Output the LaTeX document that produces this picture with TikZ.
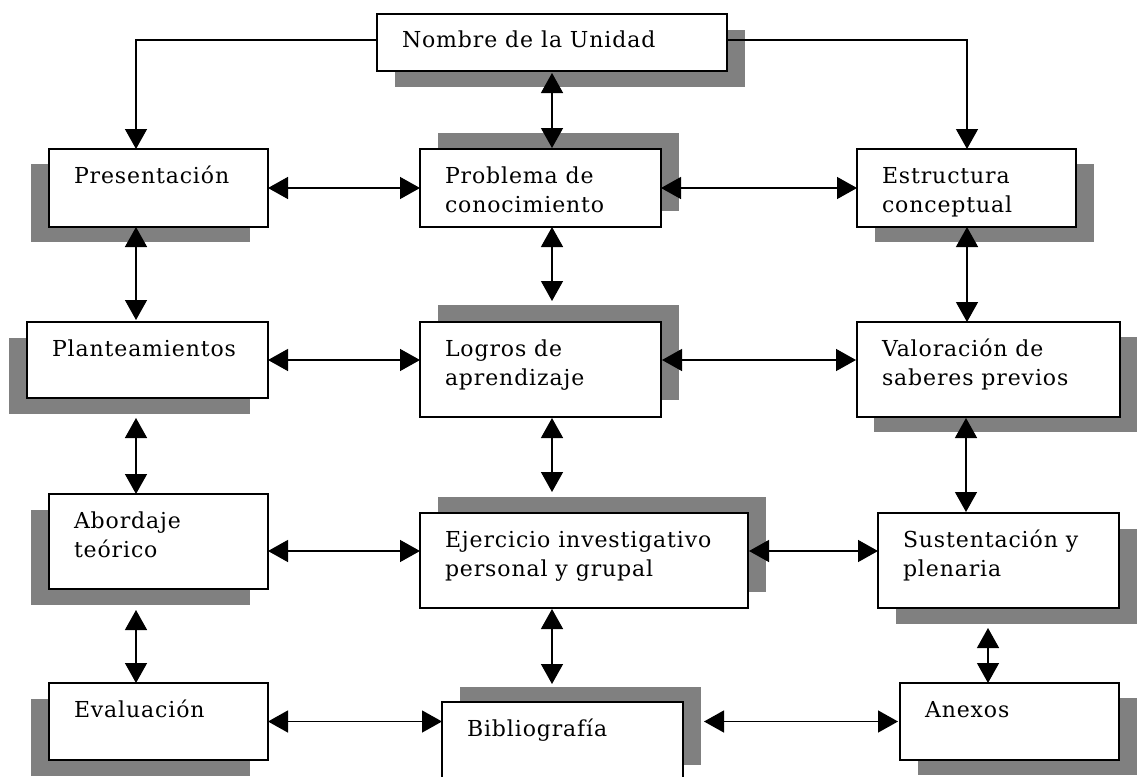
\documentclass[tikz,border=0pt]{standalone}
\usepackage{fontspec}
\setmainfont[LetterSpace=4]{DejaVu Serif}
\usetikzlibrary{arrows.meta,calc}
\definecolor{shadowgray}{RGB}{128,128,128}
\tikzset{
  boxstyle/.style={draw=black, fill=white, line width=1.4pt, inner sep=0pt, outer sep=0pt},
  textstyle/.style={anchor=base west, inner sep=0pt, outer sep=0pt, font=\fontsize{22}{26}\selectfont},
  tipstyle/.tip={Triangle[length=20pt,width=22pt]},
  dblarrow/.style={tipstyle-tipstyle, line width=1.4pt},
  sarrow/.style={-tipstyle, line width=1.4pt},
}
\newcommand\flowbox[9]{%
  \fill[shadowgray] (#2+#6,#3+#7) rectangle (#4+#6,#5+#7);
  \node[boxstyle, minimum width={#4-#2}, minimum height={#5-#3}] (#1) at ({(#2+#4)/2},{(#3+#5)/2}) {};
  \node[textstyle] (#1-a) at (#2+25,#3+34) {#8};
  \node[textstyle] (#1-b) at (#2+25,#3+63) {#9};
}
\begin{document}
\begin{tikzpicture}[x=1pt,y=-1pt]
\useasboundingbox[fill=white] (0,0) rectangle (1137,776);
\flowbox{nom}{377}{14}{727}{71}{18}{16}{Nombre de la Unidad}{}
\flowbox{pres}{49}{149}{268}{227}{-18}{15}{Presentación}{}
\flowbox{prob}{420}{149}{661}{227}{18}{-16}{Problema de}{conocimiento}
\flowbox{est}{857}{149}{1076}{227}{18}{15}{Estructura}{conceptual}
\flowbox{plan}{27}{322}{268}{398}{-18}{16}{Planteamientos}{}
\flowbox{logr}{420}{322}{661}{417}{18}{-17}{Logros de}{aprendizaje}
\flowbox{val}{857}{322}{1120}{417}{17}{15}{Valoración de}{saberes previos}
\flowbox{abor}{49}{494}{268}{589}{-18}{16}{Abordaje}{teórico}
\flowbox{ejer}{420}{513}{748}{608}{18}{-16}{Ejercicio investigativo}{personal y grupal}
\flowbox{sust}{878}{513}{1119}{608}{18}{16}{Sustentación y}{plenaria}
\flowbox{eval}{49}{683}{268}{760}{-18}{16}{Evaluación}{}
\flowbox{bib}{442}{702}{683}{780}{18}{-15}{Bibliografía}{}
\flowbox{anex}{900}{683}{1119}{760}{18}{15}{Anexos}{}
% top connectors
\draw[sarrow] ($(nom.west)+(0,-2.5)$) -| ($(pres.north west)+(87,0)$);
\draw[sarrow] ($(nom.east)+(0,-2.5)$) -| ($(est.north west)+(110,0)$);
% horizontal connectors
\draw[dblarrow] (pres.east) -- (prob.west);
\draw[dblarrow] (prob.east) -- (est.west);
\draw[dblarrow] (plan.east) -- (plan.east -| logr.west);
\draw[dblarrow] ($(logr.east)+(1,-9.5)$) -- ($(val.west)+(-1,-9.5)$);
\draw[dblarrow] ($(abor.east)+(0,9.5)$) -- ($(ejer.west)+(0,-9.5)$);
\draw[dblarrow] ($(ejer.east)+(1,-9.5)$) -- ($(sust.west)+(0,-9.5)$);
\draw[dblarrow] (eval.east) -- (eval.east -| bib.west);
\draw[dblarrow] ($(eval.east -| bib.east)+(21,0)$) -- ($(eval.east -| anex.west)+(-2,0)$);
% vertical connectors
\draw[dblarrow] ($(nom.south)+(0,2)$) -- ($(nom.south |- prob.north)+(0,-1)$);
\draw[dblarrow] ($(pres.south west)+(87,0)$) -- ($(plan.north west)+(109,-2)$);
\draw[dblarrow] ($(plan.south west)+(109,20)$) -- ($(abor.north west)+(87,0)$);
\draw[dblarrow] ($(abor.south west)+(87,21)$) -- ($(eval.north west)+(87,0)$);
\draw[dblarrow] ($(prob.south)+(11.5,0)$) -- ($(logr.north)+(11.5,-21)$);
\draw[dblarrow] ($(logr.south)+(11.5,1)$) -- ($(ejer.north west)+(132,-21)$);
\draw[dblarrow] ($(ejer.south west)+(132,1)$) -- ($(bib.north west)+(110,-18)$);
\draw[dblarrow] ($(est.south west)+(110,0)$) -- ($(val.north west)+(110,0)$);
\draw[dblarrow] ($(val.south west)+(109,1)$) -- ($(sust.north west)+(88,-1)$);
\draw[dblarrow] ($(sust.south west)+(110,20)$) -- ($(anex.north west)+(88,0)$);
\end{tikzpicture}
\end{document}
